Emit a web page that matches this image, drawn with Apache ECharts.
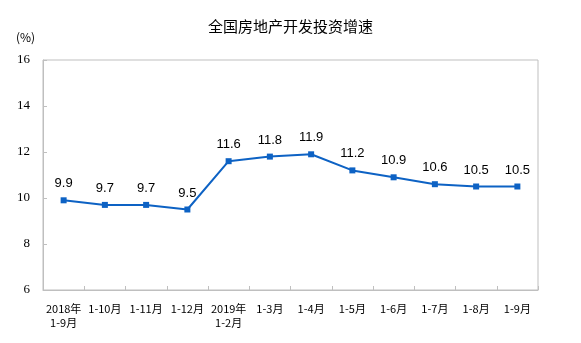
<!DOCTYPE html>
<html><head><meta charset="utf-8">
<script src="https://cdn.jsdelivr.net/npm/echarts@6/dist/echarts.min.js"></script>
<style>html,body{margin:0;padding:0;background:#fff}#c{width:581px;height:343px}</style>
</head><body><div id="c"></div>
<script>
var categories = ['2018年\n1-9月','1-10月','1-11月','1-12月','2019年\n1-2月','1-3月','1-4月','1-5月','1-6月','1-7月','1-8月','1-9月'];
var growth = [9.9, 9.7, 9.7, 9.5, 11.6, 11.8, 11.9, 11.2, 10.9, 10.6, 10.5, 10.5];
var yMin = 6, yMax = 16, yStep = 2;
var axisGray = '#bfbfbf';
var chart = echarts.init(document.getElementById('c'));
chart.setOption({
  animation: false,
  title: [
    {text: '全国房地产开发投资增速', left: 'center', top: 14,
     textStyle: {fontFamily: 'Noto Sans CJK SC', fontWeight: 'normal', fontSize: 15, color: '#000'}},
    {text: '(%)', left: 11, top: 26,
     textStyle: {fontFamily: 'Noto Sans CJK SC', fontWeight: 'normal', fontSize: 12, color: '#000'}}
  ],
  grid: {left: 43, right: 43, top: 60, bottom: 53, show: true, borderColor: axisGray, borderWidth: 1},
  xAxis: {
    type: 'category', data: categories, boundaryGap: true,
    axisLine: {lineStyle: {color: axisGray}},
    axisTick: {show: true, inside: true, length: 4, lineStyle: {color: axisGray}},
    axisLabel: {interval: 0, margin: 12, fontFamily: 'Noto Sans CJK SC', fontSize: 11, color: '#000', lineHeight: 14}
  },
  yAxis: {
    type: 'value', min: yMin, max: yMax, interval: yStep,
    axisLine: {show: true, lineStyle: {color: axisGray}},
    axisTick: {show: true, inside: true, length: 4, lineStyle: {color: axisGray}},
    splitLine: {show: false},
    axisLabel: {margin: 13, fontFamily: 'Liberation Serif', fontSize: 13, color: '#000'}
  },
  series: [{
    type: 'line', data: growth,
    symbol: 'rect', symbolSize: 6,
    lineStyle: {color: '#0d62c4', width: 2},
    itemStyle: {color: '#0d62c4'},
    label: {show: true, position: 'top', distance: 7, fontFamily: 'Liberation Sans', fontSize: 13, color: '#000',
      formatter: function(p){ return p.value.toFixed(1); }}
  }]
});
</script></body></html>
